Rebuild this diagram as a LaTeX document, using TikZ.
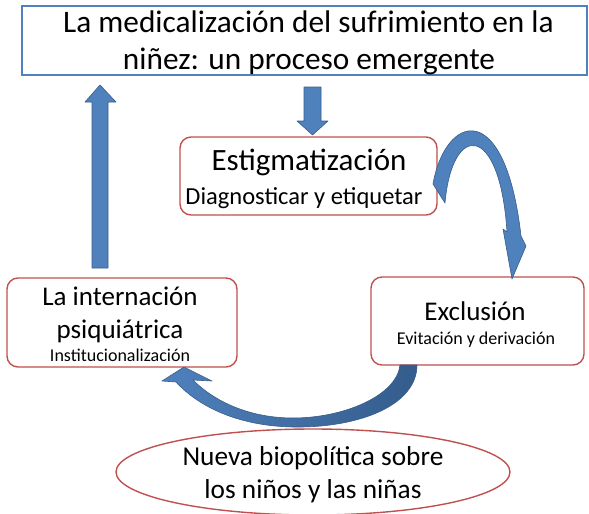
\documentclass[tikz,border=0pt]{standalone}
\usepackage{fontspec}
\setmainfont{Carlito}
\usetikzlibrary{shapes.geometric}
\definecolor{arrowblue}{RGB}{79,129,189}
\definecolor{arrowedge}{RGB}{56,93,138}
\definecolor{arrowdark}{RGB}{52,92,140}
\definecolor{redline}{RGB}{192,80,77}
\definecolor{boxblue}{RGB}{79,129,189}
\begin{document}
\begin{tikzpicture}[x=1pt,y=-1pt]
\tikzset{
  redbox/.style={draw=redline, line width=1.4pt, rounded corners=11pt, fill=white, inner sep=0pt},
  bluebox/.style={draw=boxblue, line width=1.4pt, fill=white, inner sep=0pt},
  txt/.style={anchor=base, inner sep=0pt, text=black},
  blockarrow/.style={fill=arrowblue, draw=arrowedge, line width=0.6pt, line join=round},
  big/.style={font=\fontsize{31.3}{31.3}\selectfont},
  mid/.style={font=\fontsize{27}{27}\selectfont},
  small/.style={font=\fontsize{18}{18}\selectfont}
}
\useasboundingbox (0,0) rectangle (589,514);

% boxes
\node[bluebox, minimum width=565pt, minimum height=69pt] (title) at (304.5,40.5) {};
\node[redbox, minimum width=257pt, minimum height=78pt] (estig) at (308.5,176) {};
\node[redbox, minimum width=230pt, minimum height=89pt] (intern) at (122,322.5) {};
\node[redbox, minimum width=213pt, minimum height=88pt] (excl) at (477.5,321) {};
\node[draw=redline, line width=1.4pt, ellipse, minimum width=394pt, minimum height=86pt, inner sep=0pt] (bio) at (313,472) {};

% texts
\node[txt, big] (t1) at (308.5,32) {La medicalización del sufrimiento en la};
\node[txt, big] (t2) at (309,69) {niñez: un proceso emergente};
\node[txt, font=\fontsize{31}{31}\selectfont] (e1) at (309,170) {Estigmatización};
\node[txt, font=\fontsize{24.5}{24.5}\selectfont] (e2) at (304,204) {Diagnosticar y etiquetar};
\node[txt, mid] (i1) at (120,305) {La internación};
\node[txt, mid] (i2) at (120,338) {psiquiátrica};
\node[txt, small] (i3) at (120,361) {Institucionalización};
\node[txt, mid] (x1) at (475,320) {Exclusión};
\node[txt, small] (x2) at (476,344) {Evitación y derivación};
\node[txt, font=\fontsize{27.3}{27.3}\selectfont] (b1) at (313,465) {Nueva biopolítica sobre};
\node[txt, font=\fontsize{27.3}{27.3}\selectfont] (b2) at (313,498) {los niños y las niñas};

% straight block arrows
\path[blockarrow] (92,268) -- (92,102) -- (85,102) -- (100,85) -- (116,102) -- (108,102) -- (108,268) -- cycle;
\path[blockarrow] (304,87) -- (304,121) -- (297,121) -- (312.5,135) -- (328,121) -- (321,121) -- (321,87) -- cycle;

% curved arrow Estigmatizacion -> Exclusion
\path[blockarrow] (433,184) .. controls (445,115) and (505,95) .. (521,236)
  -- (526,246) -- (512,279) -- (503,229) -- (507,232)
  .. controls (500,122) and (452,122) .. (445,203) -- cycle;

% curved arrow Exclusion -> Internacion
\path[draw=arrowedge, line width=0.6pt, line join=round, left color=arrowblue, right color=arrowdark]
  (417,365) .. controls (417,405) and (360,428) .. (293,427)
  .. controls (240,426) and (200,408) .. (176,382)
  -- (162,381) -- (184,367) -- (212,381) -- (193,380)
  .. controls (215,402) and (250,418) .. (293,418)
  .. controls (345,418) and (397,395) .. (400,365) -- cycle;
\end{tikzpicture}
\end{document}
